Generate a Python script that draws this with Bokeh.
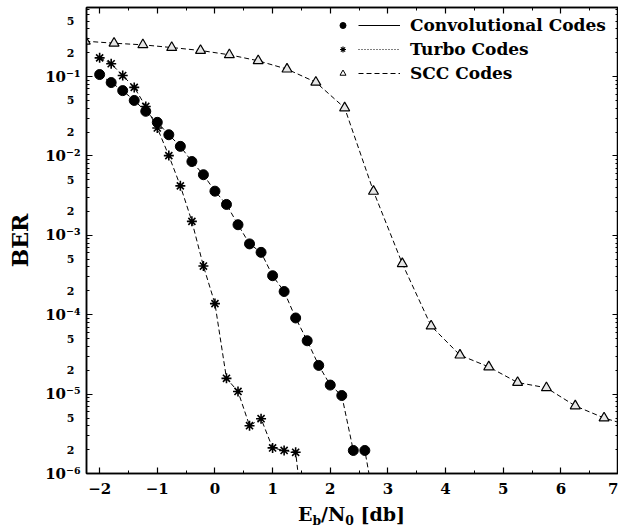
from bokeh.plotting import figure
from bokeh.layouts import column
from bokeh.models import (FixedTicker, SingleIntervalTicker, LinearAxis, LogAxis, Legend,
                          LegendItem, ColumnDataSource, CustomJSTickFormatter, Div)
from bokeh.embed import file_html
from bokeh.resources import INLINE

# ---------------- data ----------------
conv_x = [-2.0, -1.8, -1.6, -1.4, -1.2, -1.0, -0.8, -0.6, -0.4, -0.2, 0.0, 0.2, 0.4,
          0.6, 0.8, 1.0, 1.2, 1.4, 1.6, 1.8, 2.0, 2.2, 2.4, 2.6, 2.8]
conv_ber = [0.106, 0.084, 0.0665, 0.050, 0.0365, 0.0265, 0.0185, 0.0132, 0.0085, 0.0058,
            0.0036, 0.00245, 0.00136, 0.00078, 0.00061, 3.1e-4, 1.96e-4, 9.1e-5, 4.7e-5,
            2.3e-5, 1.3e-5, 9.6e-6, 1.95e-6, 1.95e-6, 3e-7]

turbo_x = [-2.0, -1.8, -1.6, -1.4, -1.2, -1.0, -0.8, -0.6, -0.4, -0.2, 0.0, 0.2, 0.4,
           0.6, 0.8, 1.0, 1.2, 1.4, 1.6]
turbo_ber = [0.172, 0.145, 0.103, 0.073, 0.042, 0.0225, 0.0101, 0.0042, 0.0015, 4.1e-4,
             1.38e-4, 1.58e-5, 1.08e-5, 4.0e-6, 4.9e-6, 2.1e-6, 1.95e-6, 1.85e-6, 1e-7]

scc_x = [-2.25, -1.75, -1.25, -0.75, -0.25, 0.25, 0.75, 1.25, 1.75, 2.25, 2.75, 3.25,
         3.75, 4.25, 4.75, 5.25, 5.75, 6.25, 6.75, 7.25]
scc_ber = [0.279, 0.263, 0.251, 0.232, 0.213, 0.188, 0.158, 0.124, 0.0848, 0.0403,
           0.00358, 4.4e-4, 7.2e-5, 3.1e-5, 2.2e-5, 1.4e-5, 1.2e-5, 7.1e-6, 5.0e-6, 3.9e-6]

series_names = ["Convolutional Codes", "Turbo Codes", "SCC Codes"]
decades = [1e-6, 1e-5, 1e-4, 1e-3, 1e-2, 1e-1]
sub_mantissas = [2, 5]
x_label_html = 'E<sub>b</sub>/N<sub>0</sub> [db]'
y_label = "BER"

X_START, X_END = -2.228, 7.0
Y_START, Y_END = 1e-6, 0.741

FONT = "DejaVu Serif"

# ---------------- figure ----------------
p = figure(width=618, height=501, y_axis_type="log",
           x_range=(X_START, X_END), y_range=(Y_START, Y_END),
           output_backend="svg", toolbar_location=None,
           min_border_left=86, min_border_right=0, min_border_top=7, min_border_bottom=28)
p.grid.visible = False
p.outline_line_color = "black"
p.outline_line_width = 1.5
p.background_fill_color = "white"
p.border_fill_color = "white"

minor_y = [m * d for d in decades for m in range(2, 10) if m * d < Y_END]
y_ticker = FixedTicker(ticks=decades, minor_ticks=minor_y)
x_ticker = SingleIntervalTicker(interval=1, num_minor_ticks=2)
sub_ticks = [m * d for d in decades for m in sub_mantissas if m * d < Y_END]
sub_ticker = FixedTicker(ticks=sub_ticks, minor_ticks=[])

exp_fmt = CustomJSTickFormatter(code="""
const sup = {"-":"\u207b","0":"\u2070","1":"\u00b9","2":"\u00b2","3":"\u00b3","4":"\u2074",
             "5":"\u2075","6":"\u2076","7":"\u2077","8":"\u2078","9":"\u2079"};
const e = Math.round(Math.log10(tick));
return "10" + String(e).split("").map(c => sup[c]).join("");
""")
mant_fmt = CustomJSTickFormatter(code="""
const e = Math.floor(Math.log10(tick) + 1e-9);
return String(Math.round(tick / Math.pow(10, e)));
""")
blank_fmt = CustomJSTickFormatter(code="return '';")

def style_axis(ax, show_labels=True):
    ax.axis_line_color = "black"
    ax.axis_line_width = 1.5
    ax.major_tick_line_color = "black"
    ax.minor_tick_line_color = "black"
    ax.major_tick_line_width = 1.2
    ax.minor_tick_line_width = 1
    ax.major_tick_in = 6
    ax.major_tick_out = 0
    ax.minor_tick_in = 3
    ax.minor_tick_out = 0
    ax.major_label_text_font = FONT
    ax.major_label_text_font_style = "bold"
    ax.major_label_text_color = "black"
    if not show_labels:
        ax.formatter = blank_fmt
        ax.major_label_text_color = None
        ax.major_label_text_font_size = "1px"
        ax.major_label_standoff = 0

# left axis (decades + BER)
yl = p.yaxis[0]
yl.ticker = y_ticker
yl.formatter = exp_fmt
style_axis(yl)
yl.major_label_text_font_size = "15px"
yl.major_label_standoff = 6
yl.axis_label = y_label
yl.axis_label_text_font = FONT
yl.axis_label_text_font_style = "bold"
yl.axis_label_text_font_size = "22px"
yl.axis_label_text_color = "black"
yl.axis_label_standoff = 9

# outer left axis carrying the small "2" / "5" labels, pulled toward the frame
ys = LogAxis(ticker=sub_ticker, formatter=mant_fmt)
ys.axis_line_color = None
ys.major_tick_line_color = None
ys.minor_tick_line_color = None
ys.major_tick_out = 0
ys.major_tick_in = 0
ys.major_label_text_font = FONT
ys.major_label_text_font_style = "bold"
ys.major_label_text_font_size = "11px"
ys.major_label_text_color = "black"
ys.major_label_standoff = -70
p.add_layout(ys, "left")

# bottom axis
xb = p.xaxis[0]
xb.ticker = x_ticker
style_axis(xb)
xb.major_label_text_font_size = "15px"
xb.major_label_standoff = 9

# right & top axes (ticks only)
yr = LogAxis(ticker=y_ticker)
style_axis(yr, show_labels=False)
p.add_layout(yr, "right")
xt = LinearAxis(ticker=x_ticker)
style_axis(xt, show_labels=False)
p.add_layout(xt, "above")

# ---------------- data marks ----------------
src_c = ColumnDataSource(dict(x=conv_x, y=conv_ber))
src_t = ColumnDataSource(dict(x=turbo_x, y=turbo_ber))
src_s = ColumnDataSource(dict(x=scc_x, y=scc_ber))

dash = "5 3"
for src in (src_c, src_t, src_s):
    p.line("x", "y", source=src, line_color="black", line_width=1, line_dash=dash)

p.scatter("x", "y", source=src_c, marker="circle", size=10,
          fill_color="black", line_color="black")
p.scatter("x", "y", source=src_t, marker="asterisk", size=10,
          line_color="black", line_width=1.6)
p.scatter("x", "y", source=src_s, marker="triangle", size=10,
          fill_color="#e6e6e6", line_color="black", line_width=1.2)

# ---------------- legends (sample glyphs only) ----------------
nan_src = ColumnDataSource(dict(x=[float("nan")], y=[float("nan")]))
m_c = p.scatter("x", "y", source=nan_src, marker="circle", fill_color="black",
                line_color="black")
m_t = p.scatter("x", "y", source=nan_src, marker="asterisk", line_color="black",
                line_width=1.2)
m_s = p.scatter("x", "y", source=nan_src, marker="triangle", fill_color="white",
                line_color="black", line_width=1)
l_solid = p.line("x", "y", source=nan_src, line_color="black", line_width=1)
l_dot = p.line("x", "y", source=nan_src, line_color="black", line_width=1, line_dash="1 2")
l_dash = p.line("x", "y", source=nan_src, line_color="black", line_width=1, line_dash="5 3")

common = dict(background_fill_alpha=0, border_line_alpha=0, padding=0, margin=0,
              spacing=4, glyph_height=20, label_height=20,
              label_text_font=FONT, label_text_font_style="bold",
              label_text_font_size="17px", label_text_color="black")

leg_m = Legend(items=[LegendItem(label=" ", renderers=[r]) for r in (m_c, m_t, m_s)],
               location=(249, 390), glyph_width=15, label_standoff=0, **common)
leg_l = Legend(items=[LegendItem(label=n, renderers=[r]) for n, r in
                      zip(series_names, (l_solid, l_dot, l_dash))],
               location=(272, 390), glyph_width=42, label_standoff=10, **common)
p.add_layout(leg_m, "center")
p.add_layout(leg_l, "center")

# ---------------- x axis label ----------------
xlab = Div(text=x_label_html.replace(
               "<sub>", '<sub style="font-size:65%;vertical-align:-0.3em;line-height:0">'),
           width=531, height=30, margin=(0, 1, 0, 86),
           styles={"font-family": FONT, "font-weight": "bold", "font-size": "19px",
                   "color": "black", "text-align": "center", "line-height": "26px",
                   "white-space": "nowrap"})

layout = column(p, xlab, spacing=0)
open("out.html", "w").write(file_html(layout, INLINE))
